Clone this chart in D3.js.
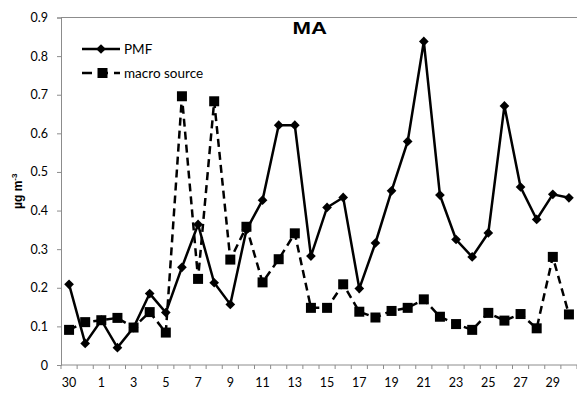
<!DOCTYPE html>
<html>
<head>
<meta charset="utf-8">
<script src="https://cdn.jsdelivr.net/npm/d3@7"></script>
<style>
  body { margin: 0; background: #fff; }
  text { font-family: Lato, "Liberation Sans", sans-serif; }
</style>
</head>
<body>
<svg width="577" height="394"></svg>
<script>
    // sampling days (labels shown on every other category)
    const days = ["30","31","1","2","3","4","5","6","7","8","9","10","11","12","13","14",
                  "15","16","17","18","19","20","21","22","23","24","25","26","27","28","29","30b"];

    const pmf = [0.209, 0.056, 0.116, 0.045, 0.097, 0.185, 0.136, 0.253, 0.364, 0.213,
                 0.157, 0.350, 0.427, 0.621, 0.621, 0.282, 0.408, 0.434, 0.198, 0.316,
                 0.451, 0.579, 0.838, 0.440, 0.325, 0.280, 0.342, 0.671, 0.461, 0.377,
                 0.442, 0.433];

    const macro = [0.091, 0.111, 0.116, 0.122, 0.097, 0.137, 0.084, 0.696, 0.223, 0.683,
                   0.273, 0.358, 0.214, 0.274, 0.341, 0.148, 0.148, 0.209, 0.138, 0.123,
                   0.140, 0.148, 0.170, 0.125, 0.106, 0.091, 0.135, 0.115, 0.132, 0.095,
                   0.280, 0.131];

    const yTicks = [0, 0.1, 0.2, 0.3, 0.4, 0.5, 0.6, 0.7, 0.8, 0.9];

    const svg = d3.select("svg"),
          margin = {top: 17.5, right: 0, bottom: 29, left: 61},
          width = +svg.attr("width") - margin.left - margin.right,
          height = +svg.attr("height") - margin.top - margin.bottom;

    const g = svg.append("g").attr("transform", `translate(${margin.left},${margin.top})`);

    const x = d3.scaleBand()
      .domain(days)
      .range([0, width])
      .padding(0);

    const y = d3.scaleLinear()
      .domain([0, 0.9])
      .range([height, 0]);

    const axisColor = "#8c8c8c";

    // plot frame (top border)
    g.append("line")
      .attr("x1", 0).attr("x2", width)
      .attr("y1", 0).attr("y2", 0)
      .attr("stroke", axisColor).attr("stroke-width", 1);

    // y axis
    const yAxis = g.append("g")
      .call(d3.axisLeft(y).tickValues(yTicks).tickSize(4).tickFormat(d => d === 0 ? "0" : d3.format(".1f")(d)));
    yAxis.select(".domain").attr("stroke", axisColor);
    yAxis.selectAll(".tick line").attr("stroke", axisColor);
    yAxis.selectAll(".tick text")
      .attr("x", -13)
      .style("font-size", "12.5px")
      .attr("fill", "#000");

    // x axis: ticks at category boundaries, labels on every other category
    const xg = g.append("g").attr("transform", `translate(0,${height})`);
    xg.append("line")
      .attr("x1", 0).attr("x2", width)
      .attr("stroke", axisColor).attr("stroke-width", 1);
    xg.selectAll(".xtick")
      .data(d3.range(days.length + 1))
      .enter().append("line")
      .attr("class", "xtick")
      .attr("x1", i => i * x.step())
      .attr("x2", i => i * x.step())
      .attr("y1", 0).attr("y2", 4)
      .attr("stroke", axisColor);
    xg.selectAll(".xlab")
      .data(days.filter((d, i) => i % 2 === 0))
      .enter().append("text")
      .attr("class", "xlab")
      .attr("x", d => x(d) + x.bandwidth() / 2)
      .attr("y", 18)
      .attr("dy", "0.35em")
      .attr("text-anchor", "middle")
      .style("font-size", "12.5px")
      .text(d => d);

    // y axis label
    svg.append("text")
      .attr("transform", `translate(22,${margin.top + height / 2}) rotate(-90)`)
      .attr("text-anchor", "middle")
      .style("font-size", "12px")
      .style("font-weight", "bold")
      .style("font-family", "'Liberation Sans', Arial, sans-serif")
      .html('µg m<tspan dy="-5" font-size="8px">-3</tspan>');

    // title
    svg.append("text")
      .attr("x", 292.5)
      .attr("y", 34.3)
      .attr("textLength", 34.5)
      .attr("lengthAdjust", "spacingAndGlyphs")
      .style("font-size", "17px")
      .style("font-weight", "bold")
      .style("font-family", "'Liberation Sans', Arial, sans-serif")
      .text("MA");

    const cx = (d, i) => x(days[i]) + x.bandwidth() / 2;

    const line = d3.line()
      .x((d, i) => cx(d, i))
      .y(d => y(d));

    // macro source (dashed + squares)
    g.append("path")
      .datum(macro)
      .attr("fill", "none")
      .attr("stroke", "#000")
      .attr("stroke-width", 2.5)
      .attr("stroke-dasharray", "8,5")
      .attr("d", line);

    g.selectAll(".sq")
      .data(macro)
      .enter().append("rect")
      .attr("class", "sq")
      .attr("x", (d, i) => cx(d, i) - 5)
      .attr("y", d => y(d) - 5)
      .attr("width", 10)
      .attr("height", 10)
      .attr("fill", "#000");

    // PMF (solid + diamonds)
    g.append("path")
      .datum(pmf)
      .attr("fill", "none")
      .attr("stroke", "#000")
      .attr("stroke-width", 2.5)
      .attr("d", line);

    const diamond = d3.symbol().type(d3.symbolDiamond2).size(60);
    g.selectAll(".dm")
      .data(pmf)
      .enter().append("path")
      .attr("class", "dm")
      .attr("transform", (d, i) => `translate(${cx(d, i)},${y(d)})`)
      .attr("d", diamond)
      .attr("fill", "#000");

    // legend
    const legend = svg.append("g");
    const lg1 = legend.append("g").attr("transform", "translate(82,49)");
    lg1.append("line").attr("x1", 0).attr("x2", 38).attr("stroke", "#000").attr("stroke-width", 2.5);
    lg1.append("path").attr("transform", "translate(19,0)").attr("d", diamond).attr("fill", "#000");
    lg1.append("text").attr("x", 42).attr("dy", "0.35em").style("font-size", "13.5px").text("PMF");

    const lg2 = legend.append("g").attr("transform", "translate(82,73)");
    lg2.append("line").attr("x1", 0).attr("x2", 38).attr("stroke", "#000").attr("stroke-width", 2.5)
      .attr("stroke-dasharray", "10,6");
    lg2.append("rect").attr("x", 15.5).attr("y", -5).attr("width", 10).attr("height", 10).attr("fill", "#000");
    lg2.append("text").attr("x", 42).attr("dy", "0.35em").style("font-size", "13.5px").text("macro source");
</script>
</body>
</html>
